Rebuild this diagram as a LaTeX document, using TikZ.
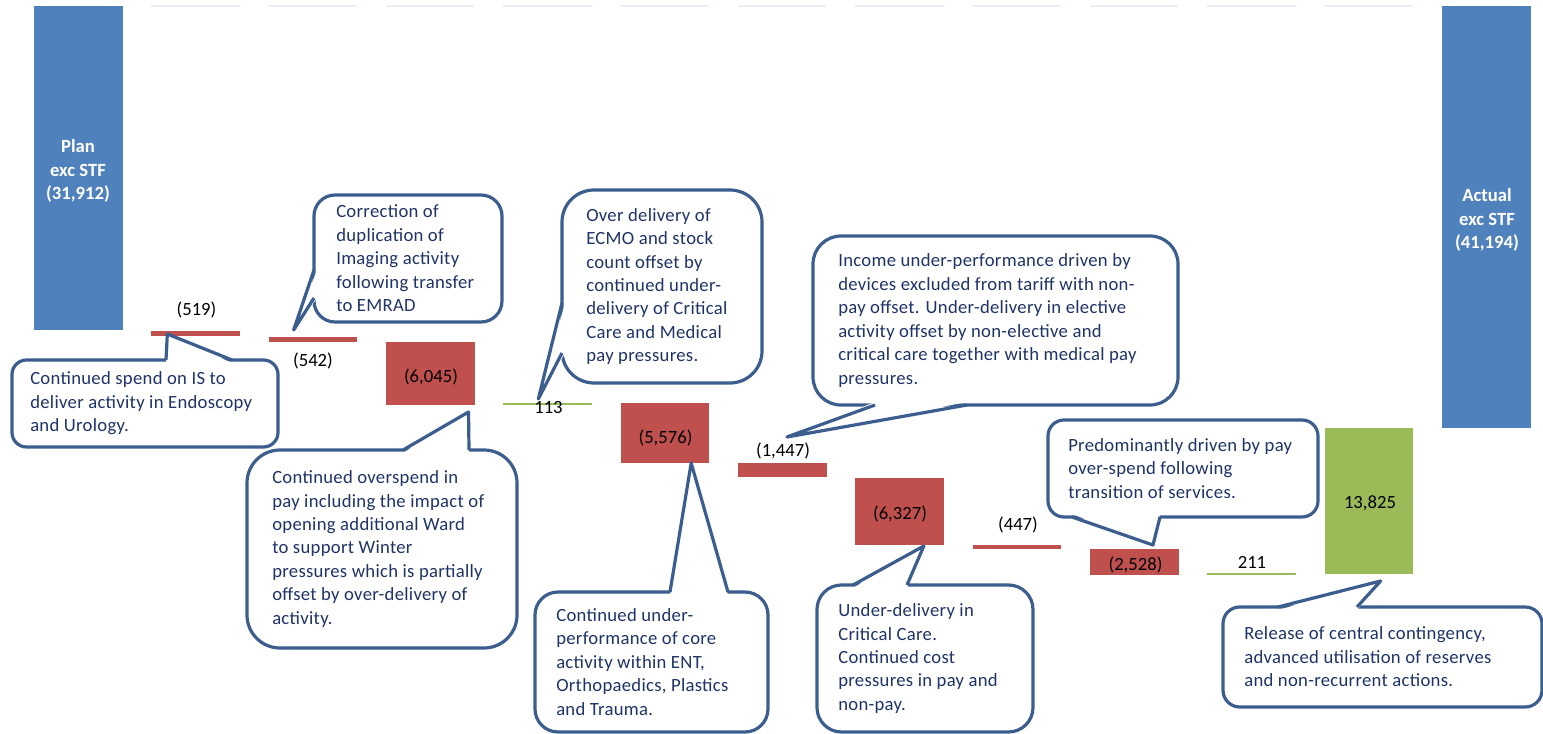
\documentclass[tikz,border=0pt]{standalone}
\usepackage{fontspec}
\setmainfont{Carlito}
\newfontfamily\notefamily[LetterSpace=1.6]{Carlito}
\usetikzlibrary{positioning, calc}
\definecolor{barBlue}{HTML}{4F81BD}
\definecolor{barRed}{HTML}{C0504D}
\definecolor{barGreen}{HTML}{9BBB59}
\definecolor{noteEdge}{HTML}{3B5E8E}
\definecolor{noteInk}{HTML}{1F3466}
\definecolor{gridFaint}{HTML}{ECEEF7}
\newcommand{\notefont}{\fontsize{14}{17.6}\selectfont}

\begin{document}
\begin{tikzpicture}[x=0.75pt, y=-0.75pt,
    bar/.style={rectangle, inner sep=0pt, outer sep=0pt, anchor=north west,
                minimum width=66.4pt},
    val/.style={font=\notefont, text=black, inner sep=0pt},
    total/.style={font=\notefont\bfseries, text=white, align=center, inner sep=0pt},
    note/.style={rectangle, draw=noteEdge, line width=2.4pt, fill=white,
                 inner sep=0pt, outer sep=0pt, anchor=north west},
    notetext/.style={font=\notefamily\notefont, text=noteInk, align=left, inner sep=0pt},
    pointer/.style={draw=noteEdge, line width=2.4pt, line join=round},
  ]
    \useasboundingbox[fill=white] (0,0) rectangle (1543,734);

    % ─── Bars ───
    \foreach \i in {1,...,11}
      \draw[gridFaint, line width=0.8pt] ({34+117.33*\i},6) -- ++(88.5,0);
    \foreach \nm/\i/\ya/\yb/\col in {bPlan/0/6/330/barBlue, b519/1/331/336/barRed,
        b542/2/337/342/barRed, b6045/3/342/405/barRed, g113/4/403/405/barGreen,
        b5576/5/403/463/barRed, b1447/6/463/477/barRed, b6327/7/478/545/barRed,
        b447/8/545/549/barRed, b2528/9/549/575/barRed, g211/10/573/575/barGreen,
        g13825/11/428/574/barGreen, bActual/12/6/428/barBlue}
      \node[bar, fill=\col, minimum height={(\yb-\ya)*0.75pt}] (\nm) at ({34+117.33*\i},\ya) {};

    % Values
    \node[total] (lPlan) at (78,171) {Plan\\exc STF\\(31,912)};
    \node[val] (l519) at (196.5,310) {(519)};
    \node[val] (l542) at (313,361) {(542)};
    \node[val] (l6045) at (431,377) {(6,045)};
    \node[val] (l113) at (548.5,407.5) {113};
    \node[val] (l5576) at (665.5,437.5) {(5,576)};
    \node[val] (l1447) at (783,451) {(1,447)};
    \node[val] (l6327) at (900,514) {(6,327)};
    \node[val] (l447) at (1018,525) {(447)};
    \node[val] (l2528) at (1135.5,565) {(2,528)};
    \node[val] (l211) at (1252,562.5) {211};
    \node[val] (l13825) at (1370,503) {13,825};
    \node[total] (lActual) at (1487,220) {Actual\\exc STF\\(41,194)};

    % ─── Callouts ───
    \foreach \nm/\xa/\ya/\w/\h/\r in {cIS/12/360/266/87/14.5, cImg/314/195/188/127/21,
        cPay/247/450/270/198/33, cECMO/562/190/200/193/32, cENT/535/592/233/140/23,
        cInc/813/236/365/169/28, cCrit/817/585/216/147/24.5, cTrans/1048/420/270/97/16,
        cRel/1223/607/319/100/16.7}
      \node[note, minimum width={\w*0.75pt}, minimum height={\h*0.75pt},
            rounded corners={\r*0.75pt}] (\nm) at (\xa,\ya) {};

    \node[notetext, right=13.5pt of cIS.west] (tIS)
      {Continued spend on IS to\\deliver activity in Endoscopy\\and Urology.};
    \node[notetext, right=16.5pt of cImg.west] (tImg)
      {Correction of\\duplication of\\Imaging activity\\following transfer\\to EMRAD};
    \node[notetext, right=18.75pt of cPay.west] (tPay)
      {Continued overspend in\\pay including the impact of\\opening additional Ward\\to support Winter\\pressures which is partially\\offset by over-delivery of\\activity.};
    \node[notetext, right=18pt of cECMO.west] (tECMO)
      {Over delivery of\\ECMO and stock\\count offset by\\continued under-\\delivery of Critical\\Care and Medical\\pay pressures.};
    \node[notetext, right=15.75pt of cENT.west] (tENT)
      {Continued under-\\performance of core\\activity within ENT,\\Orthopaedics, Plastics\\and Trauma.};
    \node[notetext, right=18.75pt of cInc.west] (tInc)
      {Income under-performance driven by\\devices excluded from tariff with non-\\pay offset. Under-delivery in elective\\activity offset by non-elective and\\critical care together with medical pay\\pressures.};
    \node[notetext, right=15.75pt of cCrit.west] (tCrit)
      {Under-delivery in\\Critical Care.\\Continued cost\\pressures in pay and\\non-pay.};
    \node[notetext, right=15pt of cTrans.west] (tTrans)
      {Predominantly driven by pay\\over-spend following\\transition of services.};
    \node[notetext, right=15.75pt of cRel.west] (tRel)
      {Release of central contingency,\\advanced utilisation of reserves\\and non-recurrent actions.};

    % Pointer tips
    \coordinate (pIS) at ($(b519.south west)+(16,-2)$);
    \coordinate (pImg) at ($(b542.north west)+(25,-7)$);
    \coordinate (pPay) at ($(b6045.south east)+(-6,7)$);
    \coordinate (pECMO) at ($(g113.north west)+(35,-4)$);
    \coordinate (pENT) at ($(b5576.south east)+(-18,0)$);
    \coordinate (pInc) at ($(b1447.north west)+(49,-26)$);
    \coordinate (pCrit) at ($(b6327.south east)+(-20,1)$);
    \coordinate (pTrans) at ($(b2528.north west)+(63,-4)$);
    \coordinate (pRel) at ($(g13825.south west)+(56,7)$);

    % Pointers
    \fill[white] ($(cIS.north west)+(154,3)$) -- (pIS) -- ($(cIS.north west)+(220,3)$) -- cycle;
    \draw[pointer] ($(cIS.north west)+(154,0)$) -- (pIS) -- ($(cIS.north west)+(220,0)$);
    \fill[white] ($(cImg.north west)+(3,75)$) -- (pImg) -- ($(cImg.north west)+(3,103)$) -- cycle;
    \draw[pointer] ($(cImg.north west)+(0,75)$) -- (pImg) -- ($(cImg.north west)+(0,103)$);
    \fill[white] ($(cPay.north west)+(156,3)$) -- (pPay) -- ($(cPay.north west)+(222,3)$) -- cycle;
    \draw[pointer] ($(cPay.north west)+(156,0)$) -- (pPay) -- ($(cPay.north west)+(222,0)$);
    \fill[white] ($(cECMO.north west)+(3,113)$) -- (pECMO) -- ($(cECMO.north west)+(3,163)$) -- cycle;
    \draw[pointer] ($(cECMO.north west)+(0,113)$) -- (pECMO) -- ($(cECMO.north west)+(0,163)$);
    \fill[white] ($(cENT.north west)+(135,3)$) -- (pENT) -- ($(cENT.north west)+(193,3)$) -- cycle;
    \draw[pointer] ($(cENT.north west)+(135,0)$) -- (pENT) -- ($(cENT.north west)+(193,0)$);
    \fill[white] ($(cInc.south west)+(62,-3)$) -- (pInc) -- ($(cInc.south west)+(154,-3)$) -- cycle;
    \draw[pointer] ($(cInc.south west)+(62,0)$) -- (pInc) -- ($(cInc.south west)+(154,0)$);
    \fill[white] ($(cCrit.north west)+(36,3)$) -- (pCrit) -- ($(cCrit.north west)+(90,3)$) -- cycle;
    \draw[pointer] ($(cCrit.north west)+(36,0)$) -- (pCrit) -- ($(cCrit.north west)+(90,0)$);
    \fill[white] ($(cTrans.south west)+(24,-3)$) -- (pTrans) -- ($(cTrans.south west)+(112,-3)$) -- cycle;
    \draw[pointer] ($(cTrans.south west)+(24,0)$) -- (pTrans) -- ($(cTrans.south west)+(112,0)$);
    \fill[white] ($(cRel.north west)+(55,3)$) -- (pRel) -- ($(cRel.north west)+(134,3)$) -- cycle;
    \draw[pointer] ($(cRel.north west)+(55,0)$) -- (pRel) -- ($(cRel.north west)+(134,0)$);
  \end{tikzpicture}
\end{document}
